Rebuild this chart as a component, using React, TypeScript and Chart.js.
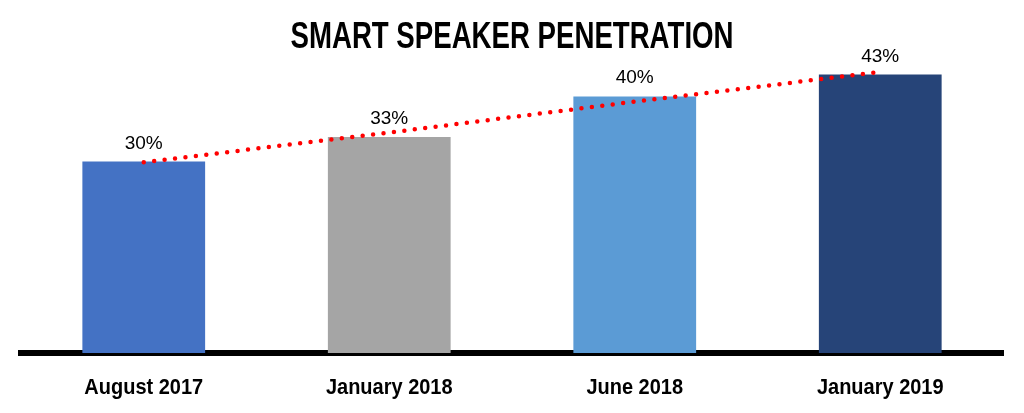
import React, { useEffect, useRef } from "react";
import { Chart, registerables } from "chart.js";

Chart.register(...registerables);

const categories = ["August 2017", "January 2018", "June 2018", "January 2019"];
const penetration = [29.7, 33.5, 39.8, 43.2];
const valueLabels = ["30%", "33%", "40%", "43%"];
const trend = [29.6, 34.2, 39.0, 43.6];
const barColors = ["#4472C4", "#A5A5A5", "#5B9BD5", "#264478"];
const titleText = "SMART SPEAKER PENETRATION";

const labelPlugin = {
  id: "valueLabels",
  afterDatasetsDraw(chart: any) {
    const ctx = chart.ctx;
    const meta = chart.getDatasetMeta(0);
    ctx.save();
    ctx.font = "19px 'Liberation Sans', Arial, sans-serif";
    ctx.fillStyle = "#000";
    ctx.textAlign = "center";
    ctx.textBaseline = "alphabetic";
    meta.data.forEach((bar: any, i: number) => {
      ctx.fillText(valueLabels[i], bar.x, bar.y - 13);
    });
    ctx.restore();
  },
};

const condensedText = (ctx: any, text: string, x: number, y: number, font: string, sx: number) => {
  ctx.save();
  ctx.font = font;
  ctx.fillStyle = "#000";
  ctx.textAlign = "center";
  ctx.textBaseline = "alphabetic";
  ctx.translate(x, y);
  ctx.scale(sx, 1);
  ctx.fillText(text, 0, 0);
  ctx.restore();
};

const textPlugin = {
  id: "condensedTexts",
  afterDraw(chart: any) {
    const ctx = chart.ctx;
    const titleFont = "bold 36px 'Liberation Sans', Arial, sans-serif";
    ctx.save();
    ctx.font = titleFont;
    const w = ctx.measureText(titleText).width;
    ctx.restore();
    condensedText(ctx, titleText, chart.width / 2, 48, titleFont, 443 / w);

    const xScale = chart.scales.x;
    const tickFont = "bold 21.5px 'Liberation Sans', Arial, sans-serif";
    xScale.ticks.forEach((_t: any, i: number) => {
      const label = xScale.getLabelForValue(i);
      condensedText(ctx, label, xScale.getPixelForTick(i), 393.5, tickFont, 0.93);
    });
  },
};

export default function App() {
  const ref = useRef<HTMLCanvasElement>(null);
  useEffect(() => {
    document.body.style.margin = "0";
    const chart = new Chart(ref.current!, {
      type: "bar",
      data: {
        labels: categories,
        datasets: [
          {
            type: "bar",
            data: penetration,
            backgroundColor: barColors,
            barPercentage: 0.5,
            categoryPercentage: 1,
            order: 2,
          },
          {
            type: "line",
            data: trend,
            borderColor: "#FF0000",
            borderWidth: 4.5,
            borderDash: [0, 10.5],
            borderCapStyle: "round",
            pointRadius: 0,
            fill: false,
            tension: 0,
            order: 1,
          } as any,
        ],
      },
      options: {
        animation: false,
        responsive: false,
        maintainAspectRatio: false,
        layout: { padding: { left: 21, right: 21, top: 56.5, bottom: 0 } },
        plugins: {
          legend: { display: false },
          tooltip: { enabled: false },
          title: { display: false },
        },
        scales: {
          x: {
            offset: true,
            grid: { display: false, drawTicks: false },
            border: { display: true, color: "#000", width: 6 },
            ticks: { display: false },
            afterFit: (s: any) => {
              s.height = 60;
            },
          },
          y: {
            display: false,
            min: 0,
            max: 46,
          },
        },
      },
      plugins: [labelPlugin, textPlugin],
    });
    return () => chart.destroy();
  }, []);
  return (
    <div style={{ width: 1024, height: 413 }}>
      <canvas ref={ref} width={1024} height={413} style={{ display: "block" }} />
    </div>
  );
}
